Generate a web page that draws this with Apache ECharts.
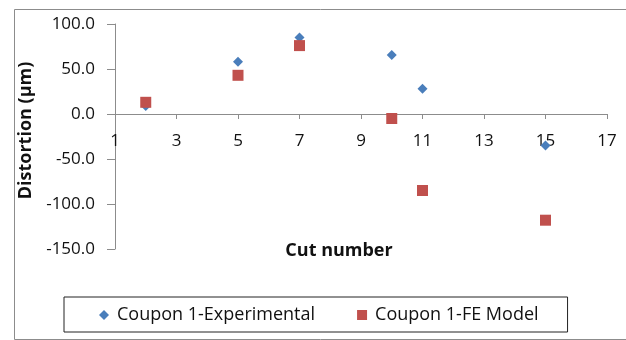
<!DOCTYPE html>
<html>
<head>
<meta charset="utf-8">
<script src="https://cdn.jsdelivr.net/npm/echarts@6/dist/echarts.min.js"></script>
<style>html,body{margin:0;padding:0;background:#fff;}#c{width:626px;height:340px;}</style>
</head>
<body>
<div id="c"></div>
<script>
const cutExp = [2, 5, 7, 10, 11, 15];
const valExp = [9, 58, 85, 65.5, 28, -35];
const cutFE = [2, 5, 7, 10, 11, 15];
const valFE = [13, 43, 76, -5, -85, -118];
const seriesNames = ['Coupon 1-Experimental', 'Coupon 1-FE Model'];
const xTitle = 'Cut number';
const yTitle = 'Distortion (µm)';

const chart = echarts.init(document.getElementById('c'), null, {renderer: 'canvas'});
const font = '"Open Sans", sans-serif';
chart.setOption({
  animation: false,
  backgroundColor: '#fff',
  graphic: [{
    type: 'rect', left: 12, top: 7, shape: {width: 612, height: 330},
    style: {fill: 'none', stroke: '#8c8c8c', lineWidth: 1}, silent: true, z: -1
  }],
  grid: {left: 115, right: 19, top: 24, bottom: 91, containLabel: false, outerBoundsMode: 'none'},
  xAxis: {
    type: 'value', min: 1, max: 17, interval: 2,
    name: xTitle, nameLocation: 'middle', nameGap: -7,
    nameTextStyle: {fontFamily: font, fontWeight: 'bold', fontSize: 18, color: '#111', padding: [0, 44, 0, 0]},
    axisLine: {show: true, onZero: true, lineStyle: {color: '#8c8c8c', width: 1}},
    axisTick: {show: true, length: 5, lineStyle: {color: '#8c8c8c'}},
    axisLabel: {margin: -116, fontFamily: font, fontSize: 17, color: '#111'},
    splitLine: {show: false}
  },
  yAxis: {
    type: 'value', min: -150, max: 100, interval: 50,
    name: yTitle, nameLocation: 'middle', nameGap: 78,
    nameTextStyle: {fontFamily: font, fontWeight: 'bold', fontSize: 18, color: '#111', padding: [0, 0, 0, 12]},
    axisLine: {show: true, lineStyle: {color: '#8c8c8c', width: 1}},
    axisTick: {show: true, length: 8, lineStyle: {color: '#8c8c8c'}},
    axisLabel: {margin: 20, fontFamily: font, fontSize: 17, color: '#111',
      formatter: v => v.toFixed(1)},
    splitLine: {show: false}
  },
  legend: {
    left: 64, top: 297,
    orient: 'horizontal',
    borderColor: '#222', borderWidth: 1,
    padding: [7, 29, 6, 35],
    itemGap: 42, itemWidth: 10, itemHeight: 10,
    textStyle: {fontFamily: font, fontSize: 18, color: '#111', lineHeight: 22, padding: [0, 0, 0, 3]},
    data: [
      {name: seriesNames[0], icon: 'diamond', itemStyle: {color: '#4A7EBB'}},
      {name: seriesNames[1], icon: 'rect', itemStyle: {color: '#C0504D'}}
    ]
  },
  series: [
    {
      name: seriesNames[0], type: 'scatter', symbol: 'diamond', symbolSize: 10,
      itemStyle: {color: '#4A7EBB', opacity: 1},
      data: cutExp.map((x, i) => [x, valExp[i]])
    },
    {
      name: seriesNames[1], type: 'scatter', symbol: 'rect', symbolSize: 11,
      itemStyle: {color: '#C0504D', opacity: 1},
      data: cutFE.map((x, i) => [x, valFE[i]])
    }
  ]
});
</script>
</body>
</html>
